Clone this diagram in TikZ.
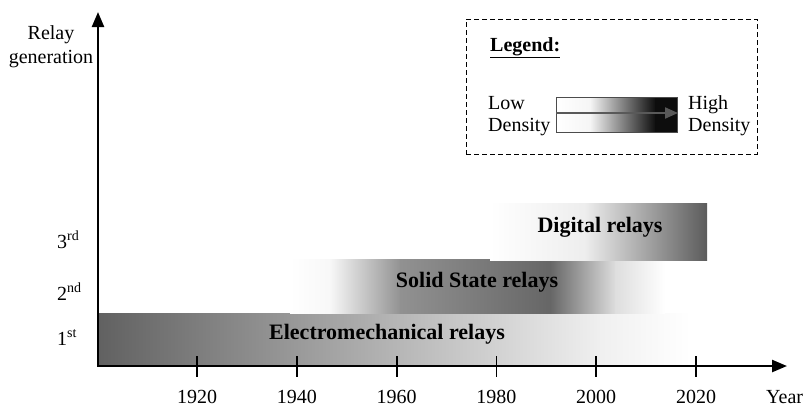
\documentclass[tikz,border=0pt]{standalone}
\usepackage{fontspec}
\setmainfont{Liberation Serif}
\usetikzlibrary{arrows.meta}
\begin{document}
\begin{tikzpicture}[x=1pt,y=-1pt,
  lbl/.style={font=\fontsize{20}{23}\selectfont, inner sep=0pt},
  barlbl/.style={font=\fontsize{22}{25}\selectfont\bfseries, inner sep=0pt},
  axisline/.style={line width=2.4pt},
  tickline/.style={line width=1.8pt},
  legarrow/.style={line width=2pt, draw=black!65, -{Triangle[length=13pt,width=11pt]}}]
\useasboundingbox (0,0) rectangle (805,410);
\fill[white] (0,0) rectangle (805,410);

% Electromechanical bar
\shade[left color=black!62, right color=black!6] (98,313) rectangle (601,366);
\shade[left color=black!6, right color=white] (600,313) rectangle (690,366);
% Solid state bar
\shade[left color=white, right color=black!3] (290,259) rectangle (331,313);
\shade[left color=black!3, right color=black!43] (330,259) rectangle (401,313);
\shade[left color=black!43, right color=black!60] (400,259) rectangle (551,313);
\shade[left color=black!60, right color=black!13] (550,259) rectangle (616,313);
\shade[left color=black!13, right color=white] (615,259) rectangle (665,313);
% Digital bar
\shade[left color=white, right color=black!7] (490,203) rectangle (586,260);
\shade[left color=black!7, right color=black!64] (585,203) rectangle (707,260);

\node[barlbl] (em) at (387,334) {Electromechanical relays};
\node[barlbl] (ss) at (477,282) {Solid State relays};
\node[barlbl] (dg) at (600,227) {Digital relays};

% axes
\coordinate (O) at (98,366);
\coordinate (ytip) at (98,12);
\coordinate (xtip) at (787,366);
\draw[axisline, {Triangle[length=15pt,width=12pt]}-{Triangle[length=15pt,width=12pt]}] (ytip) -- (O) -- (xtip);

\foreach \yr [count=\i from 0] in {1920,1940,1960,1980,2000,2020} {
  \draw[tickline] (197+99.8*\i,356) -- (197+99.8*\i,377);
  \node[lbl] (t\yr) at (197+99.8*\i,397) {\yr};
}
\node[lbl, anchor=west] (yearlbl) at (766,397) {Year};

\node[lbl, anchor=base] (rl1) at (51,39) {Relay};
\node[lbl, anchor=base] (rl2) at (51,63) {generation};

\node[lbl, anchor=base west] (g3) at (57,248) {3\textsuperscript{rd}};
\node[lbl, anchor=base west] (g2) at (57,300) {2\textsuperscript{nd}};
\node[lbl, anchor=base west] (g1) at (57,345) {1\textsuperscript{st}};

% legend
\node[draw, line width=0.9pt, dash pattern=on 5pt off 3pt, minimum width=291pt, minimum height=135pt, inner sep=0pt] (legendbox) at (611.5,86.5) {};
\node[font=\fontsize{20}{23}\selectfont\bfseries, inner sep=0pt, anchor=base west] (legtitle) at (490,51) {\underline{Legend:}};
\node[lbl, anchor=base west] (low1) at (488,109) {Low};
\node[lbl, anchor=base west] (low2) at (488,131) {Density};
\node[lbl, anchor=base west] (high1) at (688,109) {High};
\node[lbl, anchor=base west] (high2) at (688,131) {Density};

\shade[left color=white, right color=black!4] (556,97) rectangle (591,132);
\shade[left color=black!4, right color=black!95] (590,97) rectangle (656,132);
\fill[black!95] (655,97) rectangle (677,132);
\draw[black!70, line width=0.8pt] (556,97) rectangle (677,132);
\coordinate (la) at (556,113);
\coordinate (lb) at (678,113);
\draw[legarrow] (la) -- (lb);
\end{tikzpicture}
\end{document}
